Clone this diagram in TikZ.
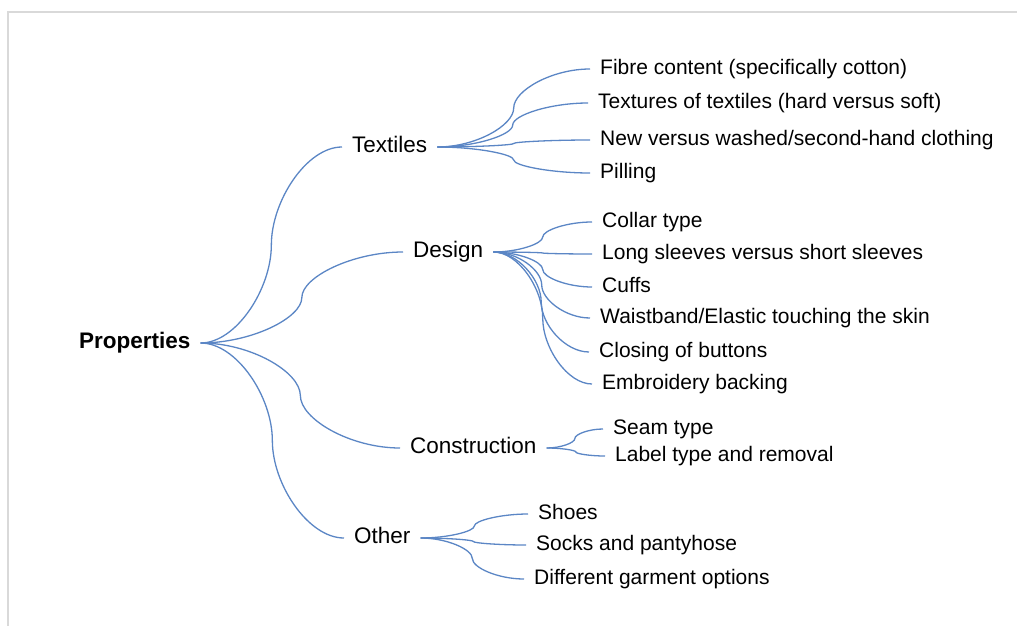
\documentclass[tikz,border=0pt]{standalone}
\usepackage{fontspec}
\setmainfont{Liberation Sans}
\usetikzlibrary{calc}
\definecolor{linkblue}{HTML}{5B86C5}
\definecolor{framegray}{HTML}{D9D9D9}
\tikzset{
  link/.style={draw=linkblue, line width=1.3pt,
    to path={let \p1=(\tikztostart), \p2=(\tikztotarget), \p3=($(\p1)!.5!(\p2)$),
      \p4=($(\p1)!.5!(\x3,\y1)$), \p5=($(\p3)!.45!(\x3,\y1)$),
      \p6=($(\p3)!.45!(\x3,\y2)$), \p7=($(\p2)!.5!(\x3,\y2)$) in
      .. controls (\p4) and (\p5) .. (\p3) .. controls (\p6) and (\p7) .. (\p2) \tikztonodes}},
  topic/.style={anchor=west, inner xsep=10pt, inner ysep=0pt,
    font=\fontsize{22.5}{27}\selectfont, text height=16.9pt, text depth=5.6pt},
  detail/.style={anchor=west, inner xsep=10pt, inner ysep=0pt,
    font=\fontsize{21}{25}\selectfont, text height=15.75pt, text depth=5.25pt},
}
\begin{document}
\begin{tikzpicture}[x=1pt,y=-1pt]
\useasboundingbox (0,0) rectangle (1017,626);
\draw[framegray, line width=1.5pt] (8,626)--(8,12)--(1017,12);

\node[topic, font=\fontsize{22.5}{27}\selectfont\bfseries] (prop) at (69,343) {Properties};

\node[topic] (tex) at (342,147) {Textiles};
\node[topic] (des) at (403,252) {Design};
\node[topic] (con) at (400,448) {Construction};
\node[topic] (oth) at (344,538) {Other};

% textiles
\node[detail] (fibre) at (590,69) {Fibre content (specifically cotton)};
\node[detail] (texture) at (588,103) {Textures of textiles (hard versus soft)};
\node[detail] (washed) at (590,140) {New versus washed/second-hand clothing};
\node[detail] (pill) at (590,173) {Pilling};

% design
\node[detail] (collar) at (592,222) {Collar type};
\node[detail] (sleeve) at (592,254) {Long sleeves versus short sleeves};
\node[detail] (cuff) at (592,287) {Cuffs};
\node[detail] (waist) at (590,318) {Waistband/Elastic touching the skin};
\node[detail] (button) at (589,352) {Closing of buttons};
\node[detail] (embro) at (592,384) {Embroidery backing};

% construction
\node[detail] (seam) at (603,429) {Seam type};
\node[detail] (label) at (605,456) {Label type and removal};

% other
\node[detail] (shoe) at (528,514) {Shoes};
\node[detail] (sock) at (526,545) {Socks and pantyhose};
\node[detail] (option) at (524,579) {Different garment options};

\draw[link] (prop.east) to (tex.west);
\draw[link] (prop.east) to (des.west);
\draw[link] (prop.east) to (con.west);
\draw[link] (prop.east) to (oth.west);

\draw[link] (tex.east) to (fibre.west);
\draw[link] (tex.east) to (texture.west);
\draw[link] (tex.east) to (washed.west);
\draw[link] (tex.east) to (pill.west);

\draw[link] (des.east) to (collar.west);
\draw[link] (des.east) to (sleeve.west);
\draw[link] (des.east) to (cuff.west);
\draw[link] (des.east) to (waist.west);
\draw[link] (des.east) to (button.west);
\draw[link] (des.east) to (embro.west);

\draw[link] (con.east) to (seam.west);
\draw[link] (con.east) to (label.west);

\draw[link] (oth.east) to (shoe.west);
\draw[link] (oth.east) to (sock.west);
\draw[link] (oth.east) to (option.west);
\end{tikzpicture}
\end{document}
